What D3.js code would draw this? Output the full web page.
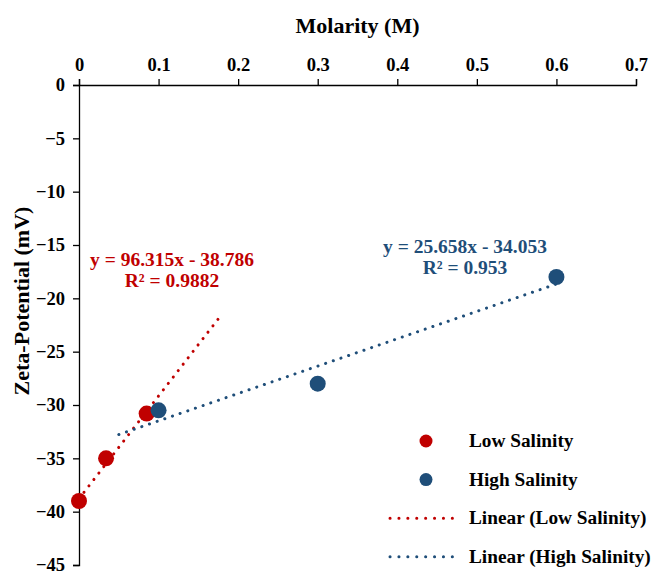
<!DOCTYPE html>
<html>
<head>
<meta charset="utf-8">
<script src="https://cdn.jsdelivr.net/npm/d3@7"></script>
<style>
  body { margin: 0; background: #fff; }
  svg text { font-family: "Liberation Serif", "Times New Roman", serif; font-weight: bold; }
</style>
</head>
<body>
<div id="chart"></div>
<script>
// Low salinity measurements
const lowX = [0, 0.034, 0.085];
const lowY = [-39, -35, -30.8];
// High salinity measurements
const highX = [0.1, 0.3, 0.6];
const highY = [-30.5, -28, -18];

// Trendline coefficients and extents (as shown in the chart)
const lowFit = { slope: 96.315, intercept: -38.786, r2: "0.9882", from: 0, to: 0.18 };
const highFit = { slope: 25.658, intercept: -34.053, r2: "0.953", from: 0.05, to: 0.6 };

const xTicks = [0, 0.1, 0.2, 0.3, 0.4, 0.5, 0.6, 0.7];
const yTicks = [0, -5, -10, -15, -20, -25, -30, -35, -40, -45];

const RED = "#C00000", BLUE = "#1F4E79";

const width = 652, height = 571;
const margin = { top: 85, right: 16, bottom: 6, left: 79 };

const svg = d3.select("#chart")
    .append("svg")
    .attr("width", width)
    .attr("height", height);

const x = d3.scaleLinear().domain([0, 0.7]).range([margin.left, width - margin.right]);
const y = d3.scaleLinear().domain([-45, 0]).range([height - margin.bottom, margin.top]);

// top x axis
const xAxis = svg.append("g")
    .attr("transform", `translate(0,${y(0)})`)
    .call(d3.axisTop(x).tickValues(xTicks).tickFormat(d => d3.format("")(d)).tickSizeOuter(0).tickSize(6).tickPadding(8));

// left y axis
const yAxis = svg.append("g")
    .attr("transform", `translate(${x(0)},0)`)
    .call(d3.axisLeft(y).tickValues(yTicks).tickSizeOuter(0).tickSize(6).tickPadding(8));

[xAxis, yAxis].forEach(g => {
    g.selectAll("path, line").attr("stroke", "#000").attr("stroke-width", 1.3);
    g.selectAll("text").attr("font-size", 18.5).attr("fill", "#000")
        .attr("font-family", "Liberation Serif, serif").attr("font-weight", "bold");
});
yAxis.selectAll("text").text(d => d === 0 ? "0" : d3.format("")(d));

// axis titles
svg.append("text")
    .attr("x", (x(0) + x(0.7)) / 2)
    .attr("y", 33)
    .attr("text-anchor", "middle")
    .attr("font-size", 22)
    .text("Molarity (M)");

svg.append("text")
    .attr("transform", `translate(29,${301}) rotate(-90)`)
    .attr("text-anchor", "middle")
    .attr("font-size", 22)
    .text("Zeta-Potential (mV)");

// trendlines
function drawFit(fit, color) {
    const pts = [fit.from, fit.to].map(v => [v, fit.slope * v + fit.intercept]);
    svg.append("path")
        .attr("d", d3.line().x(d => x(d[0])).y(d => y(d[1]))(pts))
        .attr("fill", "none")
        .attr("stroke", color)
        .attr("stroke-width", 3)
        .attr("stroke-linecap", "round")
        .attr("stroke-dasharray", "0.1 8");
}
drawFit(lowFit, RED);
drawFit(highFit, BLUE);

// points
svg.append("g").selectAll("circle")
    .data(lowX.map((v, i) => [v, lowY[i]]))
    .join("circle")
    .attr("cx", d => x(d[0])).attr("cy", d => y(d[1]))
    .attr("r", 8).attr("fill", RED);

svg.append("g").selectAll("circle")
    .data(highX.map((v, i) => [v, highY[i]]))
    .join("circle")
    .attr("cx", d => x(d[0])).attr("cy", d => y(d[1]))
    .attr("r", 8).attr("fill", BLUE);

// equations
function fmtEq(fit) {
    return `y = ${fit.slope}x - ${Math.abs(fit.intercept)}`;
}
const eqs = [
    { fit: lowFit, color: RED, cx: 172, cy: 266 },
    { fit: highFit, color: BLUE, cx: 465, cy: 253 }
];
eqs.forEach(e => {
    const t = svg.append("text")
        .attr("text-anchor", "middle")
        .attr("font-size", 19.5)
        .attr("fill", e.color);
    t.append("tspan").attr("x", e.cx).attr("y", e.cy).text(fmtEq(e.fit));
    t.append("tspan").attr("x", e.cx).attr("y", e.cy + 21).text(`R² = ${e.fit.r2}`);
});

// legend
const legendItems = [
    { label: "Low Salinity", color: RED, type: "dot" },
    { label: "High Salinity", color: BLUE, type: "dot" },
    { label: "Linear (Low Salinity)", color: RED, type: "line" },
    { label: "Linear (High Salinity)", color: BLUE, type: "line" }
];
const legend = svg.append("g");
legendItems.forEach((item, i) => {
    const cy = 441 + i * 38.6;
    if (item.type === "dot") {
        legend.append("circle").attr("cx", 426).attr("cy", cy).attr("r", 6.5).attr("fill", item.color);
    } else {
        legend.append("line")
            .attr("x1", 390).attr("x2", 461).attr("y1", cy).attr("y2", cy)
            .attr("stroke", item.color).attr("stroke-width", 3)
            .attr("stroke-linecap", "round").attr("stroke-dasharray", "0.1 8.8");
    }
    legend.append("text")
        .attr("x", 469).attr("y", cy + 6)
        .attr("font-size", 19.3)
        .text(item.label);
});
</script>
</body>
</html>
